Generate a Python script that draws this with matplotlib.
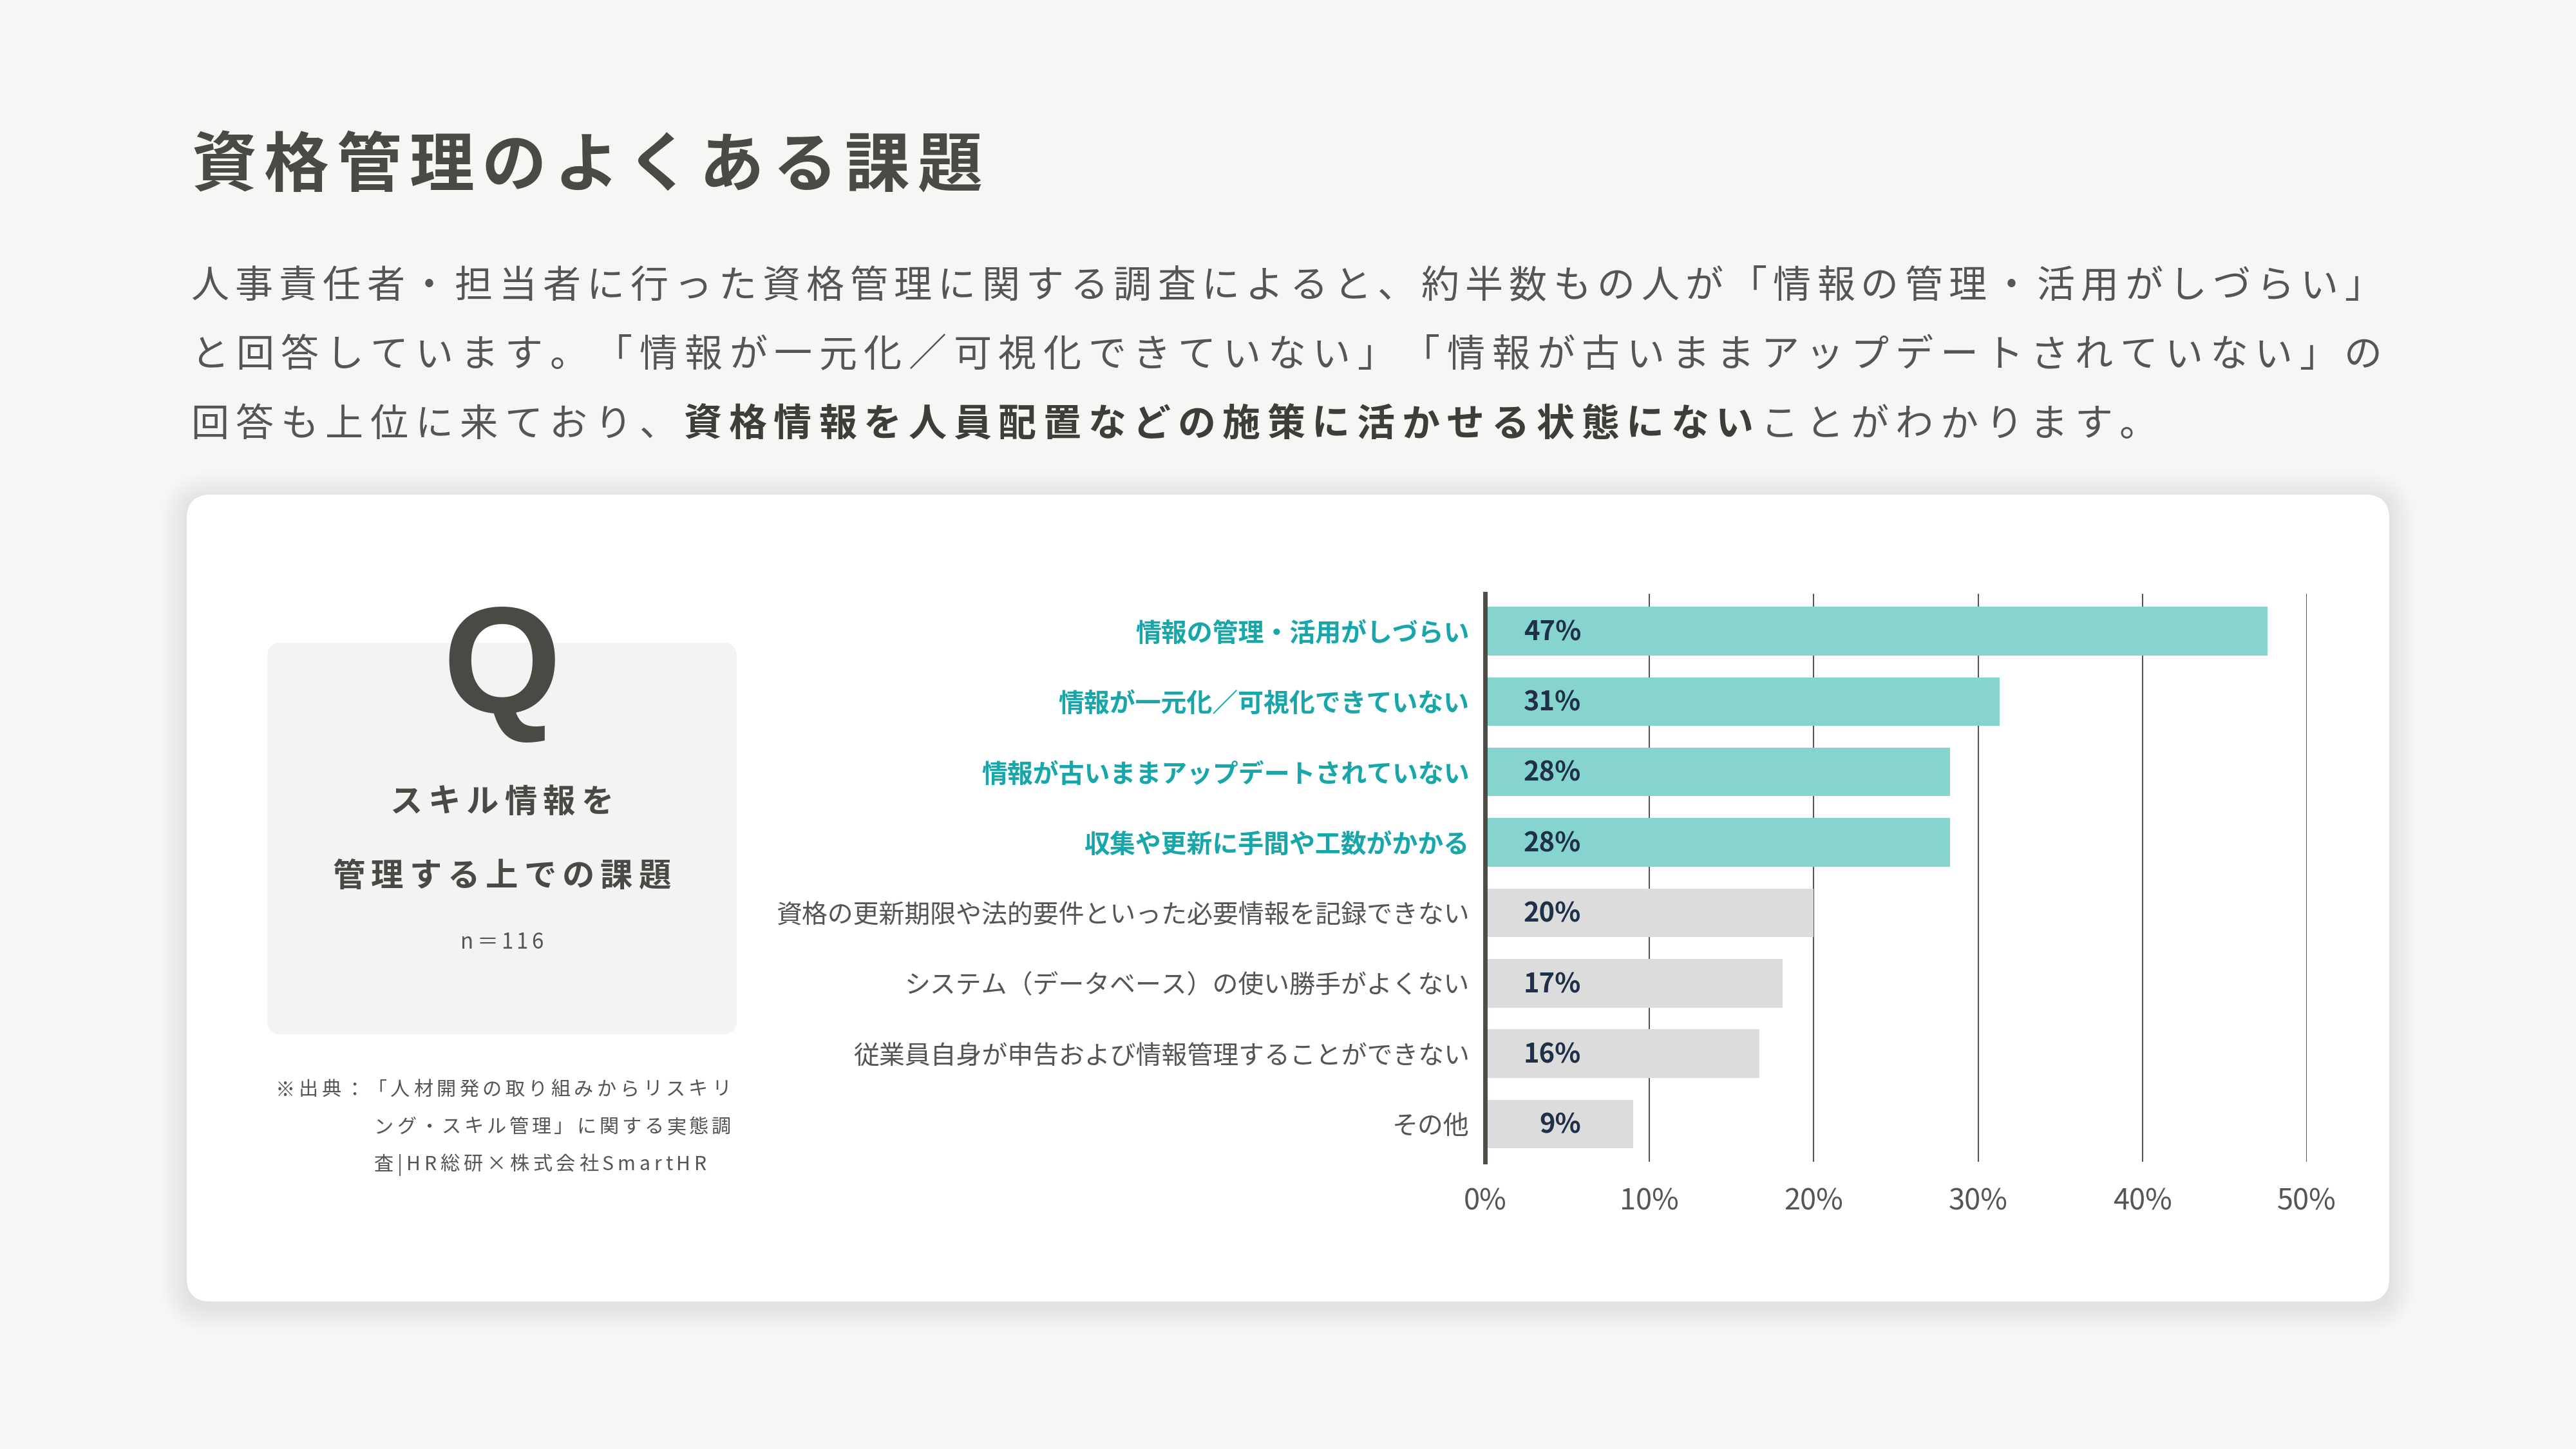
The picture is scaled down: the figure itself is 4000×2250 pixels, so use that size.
import matplotlib.pyplot as plt
from matplotlib.patches import FancyBboxPatch

plt.rcParams['font.family'] = ['Noto Sans CJK JP', 'DejaVu Sans']

# chart data
categories = [
    '情報の管理・活用がしづらい',
    '情報が一元化／可視化できていない',
    '情報が古いままアップデートされていない',
    '収集や更新に手間や工数がかかる',
    '資格の更新期限や法的要件といった必要情報を記録できない',
    'システム（データベース）の使い勝手がよくない',
    '従業員自身が申告および情報管理することができない',
    'その他',
]
values = [47.6, 31.3, 28.3, 28.3, 20.0, 18.1, 16.7, 9.0]
value_labels = ['47%', '31%', '28%', '28%', '20%', '17%', '16%', '9%']
highlighted = [True, True, True, True, False, False, False, False]
x_ticks = [0, 10, 20, 30, 40, 50]
x_tick_labels = ['0%', '10%', '20%', '30%', '40%', '50%']

# texts
title = '資格管理のよくある課題'
body_1 = '人事責任者・担当者に行った資格管理に関する調査によると、約半数もの人が「情報の管理・活用がしづらい」'
body_2 = 'と回答しています。「情報が一元化／可視化できていない」「情報が古いままアップデートされていない」の'
body_3a = '回答も上位に来ており、'
body_3b = '資格情報を人員配置などの施策に活かせる状態にない'
body_3c = 'ことがわかります。'
q_lines = ['スキル情報を', '管理する上での課題']
n_text = 'n＝116'
source_lines = ['※出典：「人材開発の取り組みからリスキリ',
                'ング・スキル管理」に関する実態調',
                '査|HR総研×株式会社SmartHR']

BG = '#f7f6f4'
DARK = '#4a4a45'
GREY_TXT = '#555555'
TEAL_BAR = '#85d5ce'
GREY_BAR = '#dcdcdc'
TEAL_TXT = '#17a6aa'

fig = plt.figure(figsize=(16, 9), dpi=250, facecolor=BG)

# background axes in pixel units
bg = fig.add_axes([0, 0, 1, 1])
bg.set_xlim(0, 4000)
bg.set_ylim(2250, 0)
bg.axis('off')

renderer = fig.canvas.get_renderer()


def tracked(x, y, parts, size, gap=0, width=None, ha='left'):
    # draw text char by char with letter spacing
    texts, widths = [], []
    for s, weight, color in parts:
        for ch in s:
            t = bg.text(0, y, ch, fontsize=size, fontweight=weight, color=color, va='baseline')
            texts.append(t)
            widths.append(t.get_window_extent(renderer).width)
    if width is not None:
        gap = (width - sum(widths)) / (len(widths) - 1)
    total = sum(widths) + gap * (len(widths) - 1)
    if ha == 'center':
        x -= total / 2
    elif ha == 'right':
        x -= total
    for t, w in zip(texts, widths):
        t.set_x(x)
        x += w + gap
    return gap


# card shadow + card
for i in range(20):
    p = 2 + i * 2
    bg.add_patch(FancyBboxPatch((290, 774), 3420, 1253,
                                boxstyle=f'round,pad={p},rounding_size={37 + p}',
                                fc='black', ec='none', alpha=0.003))
bg.add_patch(FancyBboxPatch((290, 768), 3420, 1253, boxstyle='round,pad=0,rounding_size=37',
                            fc='white', ec='none'))
bg.add_patch(FancyBboxPatch((415, 998), 729, 608, boxstyle='round,pad=0,rounding_size=22',
                            fc='#f3f3f3', ec='none'))

# title and lead text
tracked(297, 289, [(title, 'bold', DARK)], 29, width=1228)
tracked(296, 462, [(body_1, 'normal', GREY_TXT)], 17, width=3403)
tracked(296, 569, [(body_2, 'normal', GREY_TXT)], 17, width=3403)
tracked(296, 677, [(body_3a, 'normal', GREY_TXT), (body_3b, 'bold', '#3d3d3a'),
                   (body_3c, 'normal', GREY_TXT)], 17, width=3054)

# question box
bg.text(779, 1107, 'Q', ha='center', va='baseline', fontsize=68, fontweight='bold',
        family='Liberation Sans', color=DARK)
tracked(779, 1261, [(q_lines[0], 'bold', DARK)], 14.5, gap=9, ha='center')
tracked(779, 1376, [(q_lines[1], 'bold', DARK)], 14.5, gap=9, ha='center')
tracked(779, 1473, [(n_text, 'normal', GREY_TXT)], 9.5, gap=5, ha='center')

# source note
tracked(428, 1701, [(source_lines[0], 'normal', GREY_TXT)], 8.7, width=707)
sg2 = tracked(581, 1759, [(source_lines[1], 'normal', GREY_TXT)], 8.7, width=554)
tracked(581, 1817, [(source_lines[2], 'normal', GREY_TXT)], 8.7, gap=sg2 + 1)

# bar chart
ax = fig.add_axes([0.5765, 0.1982, 0.319, 0.392])
ax.patch.set_visible(False)
ypos = list(range(len(categories)))
colors = [TEAL_BAR if h else GREY_BAR for h in highlighted]
ax.barh(ypos, values, height=0.69, color=colors, zorder=2)
ax.set_xlim(0, 50)
ax.set_ylim(7.535, -0.53)
ax.grid(axis='x', color='#555555', linewidth=0.6, zorder=0)
ax.set_axisbelow(True)
for side in ['top', 'right', 'bottom']:
    ax.spines[side].set_visible(False)
ax.spines['left'].set_color('#4d4c47')
ax.spines['left'].set_linewidth(2)
ax.spines['left'].set_zorder(3)

ax.set_xticks(x_ticks, x_tick_labels)
ax.tick_params(axis='x', length=0, pad=11, labelsize=13, labelcolor=GREY_TXT)
for lbl in ax.get_xticklabels():
    lbl.set_x(lbl.get_position()[0])
ax.set_yticks(ypos, categories)
ax.tick_params(axis='y', length=0, pad=7, labelsize=11.5)
for lbl, h in zip(ax.get_yticklabels(), highlighted):
    lbl.set_color(TEAL_TXT if h else GREY_TXT)
    lbl.set_fontweight('bold' if h else 'normal')

for y, lab in zip(ypos, value_labels):
    ax.text(5.85, y + 0.02, lab, ha='right', va='center', fontsize=12, fontweight='bold',
            color='#1f3047', zorder=4)

fig.savefig('out.png', dpi=250, facecolor=BG)
